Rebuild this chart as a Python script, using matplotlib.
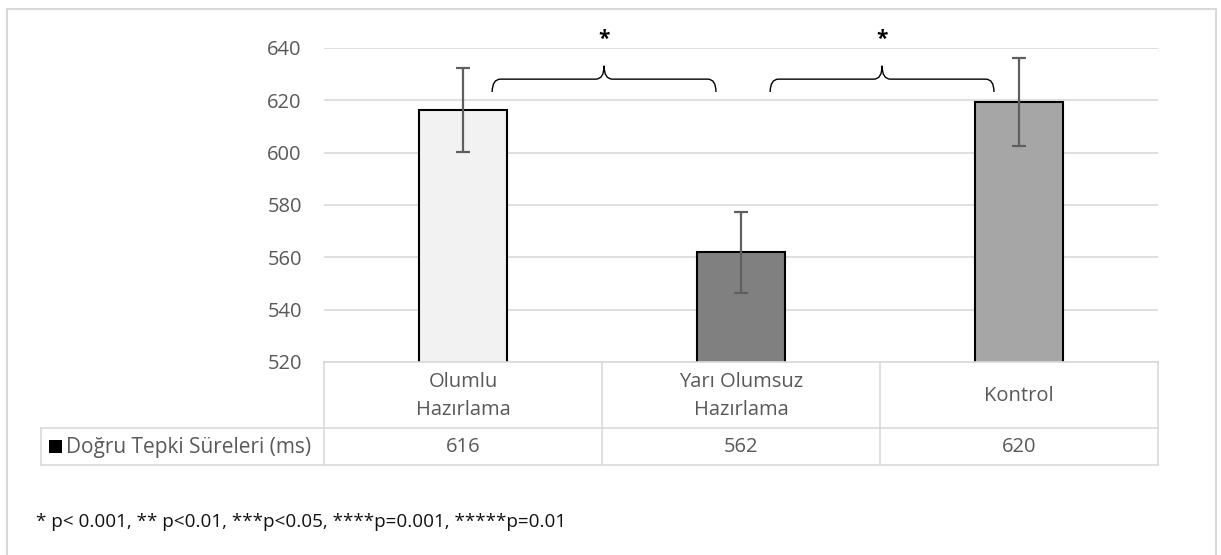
import numpy as np
import matplotlib
matplotlib.use("Agg")
import matplotlib.pyplot as plt
from matplotlib.path import Path
from matplotlib.patches import PathPatch, Rectangle
from matplotlib.lines import Line2D

# data
categories = ["Olumlu\nHazırlama", "Yarı Olumsuz\nHazırlama", "Kontrol"]
values = [616.3, 562.0, 619.5]
value_labels = ["616", "562", "620"]
errors = [16.0, 15.5, 16.8]
bar_colors = ["#f2f2f2", "#808080", "#a6a6a6"]
series_name = "Doğru Tepki Süreleri (ms)"
yticks = [520, 540, 560, 580, 600, 620, 640]
brace_pairs = [(0, 1), (1, 2)]
footnote = "* p< 0.001, ** p<0.01, ***p<0.05, ****p=0.001, *****p=0.01"

W, H = 1221, 555
plt.rcParams['font.family'] = ['Open Sans', 'DejaVu Sans']
txt = "#595959"
grid = "#d9d9d9"

fig = plt.figure(figsize=(W / 100, H / 100), dpi=100)

def fx(px):
    return px / W

def fy(py):
    return 1 - py / H

# plot area in pixels
left, right, top, bottom = 324, 1158, 48, 362
ax = fig.add_axes([fx(left), fy(bottom), fx(right - left), fy(top) - fy(bottom)])
x = np.arange(len(categories))
ax.bar(x, values, width=0.313, color=bar_colors, edgecolor="black", linewidth=1.5, zorder=3)
ax.errorbar(x, values, yerr=errors, fmt="none", ecolor="#5f5f5f", elinewidth=1.6,
            capsize=5, capthick=1.6, zorder=4)
ax.set_xlim(-0.5, len(categories) - 0.5)
ax.set_ylim(yticks[0], yticks[-1])
ax.set_yticks(yticks)
ax.yaxis.grid(True, color=grid, linewidth=1.2, zorder=0)
ax.set_axisbelow(True)
for s in ax.spines.values():
    s.set_visible(False)
ax.tick_params(axis="y", length=0, pad=16, labelsize=14.5, labelcolor=txt)
ax.tick_params(axis="x", length=0, labelbottom=False)
ax.set_yticklabels([str(t) for t in yticks])

# significance braces
def brace(a, b):
    x0, x1 = a + 0.105, b - 0.09
    xm = (x0 + x1) / 2
    ylo, ymid, ytip = 623.2, 628.1, 633.2
    d = 0.03
    verts = [(x0, ylo), (x0, ymid), (x0 + d, ymid),
             (xm - d, ymid), (xm, ymid), (xm, ytip),
             (xm, ymid), (xm + d, ymid),
             (x1 - d, ymid), (x1, ymid), (x1, ylo)]
    codes = [Path.MOVETO, Path.CURVE3, Path.CURVE3,
             Path.LINETO, Path.CURVE3, Path.CURVE3,
             Path.CURVE3, Path.CURVE3,
             Path.LINETO, Path.CURVE3, Path.CURVE3]
    ax.add_patch(PathPatch(Path(verts, codes), facecolor="none", edgecolor="black",
                           linewidth=1.0, clip_on=False, zorder=5))
    ax.text(xm, 643.2, "*", ha="center", va="center", fontsize=15, fontweight="bold",
            color="black", clip_on=False)

for a, b in brace_pairs:
    brace(a, b)

# data table under the axis
def hline(y, x0, x1):
    fig.add_artist(Line2D([fx(x0), fx(x1)], [fy(y), fy(y)], color=grid, linewidth=1.2))

def vline(xp, y0, y1):
    fig.add_artist(Line2D([fx(xp), fx(xp)], [fy(y0), fy(y1)], color=grid, linewidth=1.2))

row1, row2, row3 = 362, 428, 465
col_w = (right - left) / len(categories)
hline(row1, left, right)
hline(row2, 41, right)
hline(row3, 41, right)
vline(41, row2, row3)
for i in range(len(categories) + 1):
    vline(left + i * col_w, row1, row3)

for i, (c, v) in enumerate(zip(categories, value_labels)):
    cx = left + (i + 0.5) * col_w
    fig.text(fx(cx), fy((row1 + row2) / 2 + 1), c, ha="center", va="center",
             fontsize=14.5, color=txt, linespacing=1.5)
    fig.text(fx(cx), fy((row2 + row3) / 2 + 1), v, ha="center", va="center",
             fontsize=14.5, color=txt)

fig.add_artist(Rectangle((fx(49), fy(453)), fx(13), fy(440) - fy(453), facecolor="black",
                         edgecolor="none"))
fig.text(fx(66), fy((row2 + row3) / 2 + 1), series_name, ha="left", va="center",
         fontsize=15, color=txt)

# footnote
fig.text(fx(36), fy(522), footnote, ha="left", va="center", fontsize=13.6, color="#111111")

# outer frame
fig.add_artist(Line2D([fx(7.5), fx(7.5), fx(1216), fx(1216)], [0, fy(8.5), fy(8.5), 0],
                      color=grid, linewidth=1.5))

fig.savefig("out.png", dpi=100)
